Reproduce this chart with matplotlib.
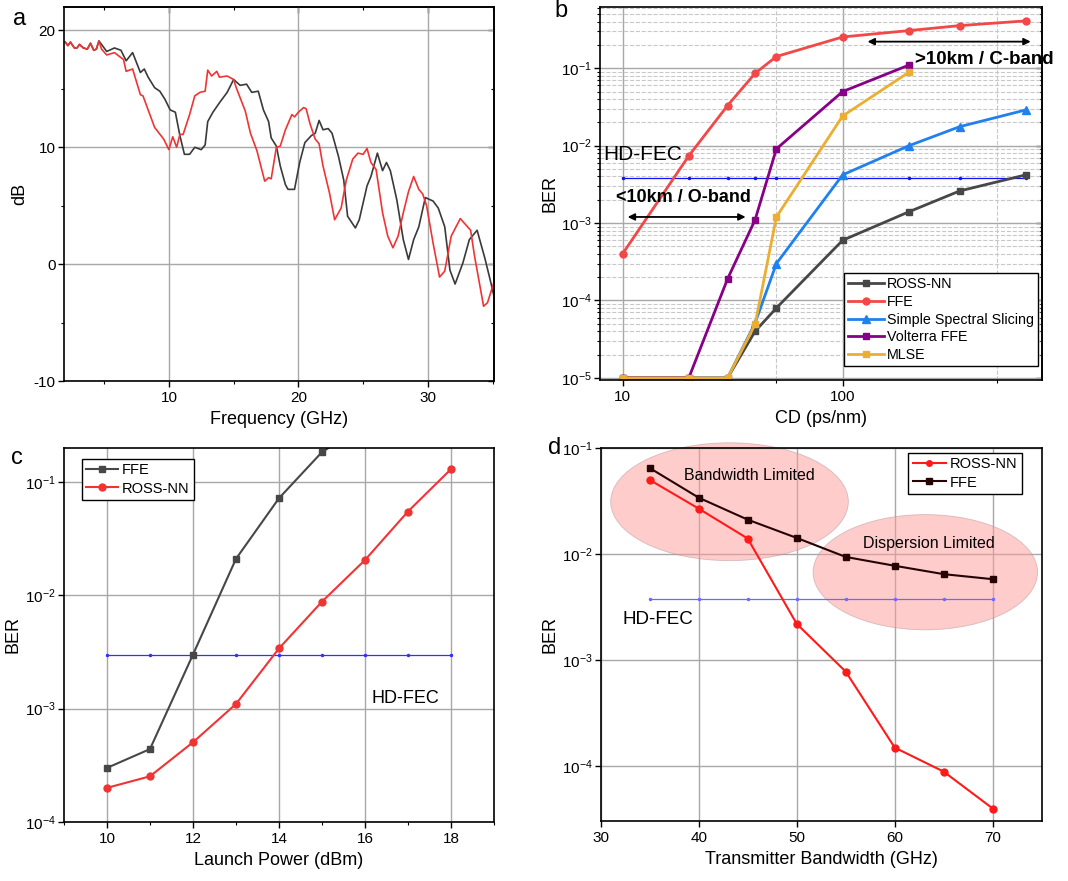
import numpy as np
import matplotlib
matplotlib.use("Agg")
from matplotlib import pyplot as plt
from matplotlib.patches import Ellipse
from matplotlib.ticker import LogLocator, NullFormatter, MultipleLocator

plt.rcParams['font.family'] = ['Liberation Sans', 'DejaVu Sans']
plt.rcParams['mathtext.fontset'] = 'custom'
plt.rcParams['mathtext.rm'] = 'Liberation Sans'
plt.rcParams['mathtext.it'] = 'Liberation Sans:italic'
plt.rcParams['mathtext.bf'] = 'Liberation Sans:bold'
plt.rcParams['axes.linewidth'] = 1.2
plt.rcParams['axes.unicode_minus'] = False

# ---- panel a: frequency response ----
f_red = [2.0, 2.2, 2.4, 2.7, 2.9, 3.1, 3.4, 3.7, 3.95, 4.2, 4.4, 4.6, 4.8, 5.2, 5.8, 6.5, 6.7, 7.2,
         7.8, 8.0, 8.3, 8.9, 9.6, 10.0, 10.3, 10.6, 10.85, 11.1, 11.6, 12.0, 12.4, 12.8, 13.0, 13.3,
         13.7, 13.9, 14.5, 15.0, 15.2, 15.9, 16.3, 16.8, 17.4, 17.7, 17.9, 18.3, 18.6, 19.0, 19.5,
         19.7, 20.0, 20.4, 20.6, 20.9, 21.3, 21.6, 21.9, 22.4, 22.8, 23.3, 23.7, 24.2, 24.6, 25.0,
         25.3, 25.6, 26.0, 26.5, 26.9, 27.3, 27.7, 28.1, 28.5, 28.9, 29.3, 29.6, 29.9, 30.4, 30.9,
         31.3, 31.8, 32.5, 32.9, 33.3, 33.6, 34.3, 34.6, 35.2]
db_red = [19.0, 18.7, 19.0, 18.5, 18.5, 18.8, 18.5, 18.4, 18.9, 18.3, 18.4, 19.1, 18.4, 17.9, 18.1,
          17.5, 16.5, 16.7, 14.5, 14.4, 13.5, 11.7, 10.7, 9.8, 10.9, 10.0, 11.1, 11.1, 12.8, 14.4,
          14.7, 14.8, 16.6, 16.1, 16.5, 16.0, 16.1, 15.8, 15.1, 13.1, 11.2, 9.7, 7.1, 7.4, 7.3, 10.0,
          10.1, 11.5, 12.8, 12.6, 13.0, 13.4, 13.3, 12.0, 10.7, 10.3, 8.4, 6.1, 3.8, 4.8, 7.2, 9.0,
          9.5, 9.4, 9.9, 8.7, 8.1, 4.4, 2.4, 1.4, 2.4, 4.4, 6.2, 7.5, 6.4, 6.0, 5.0, 1.8, -1.1, -0.6,
          2.4, 3.9, 3.4, 2.9, 0.7, -3.6, -3.3, -1.2]
f_blk = [2.0, 2.2, 2.4, 2.7, 2.9, 3.1, 3.4, 3.7, 3.95, 4.2, 4.4, 4.6, 5.2, 5.8, 6.3, 6.7, 7.2, 7.8,
         8.1, 8.4, 8.9, 9.3, 9.7, 10.1, 10.5, 10.85, 11.2, 11.6, 12.0, 12.5, 12.8, 13.0, 13.4, 13.9,
         14.5, 15.0, 15.5, 16.0, 16.4, 16.9, 17.3, 17.7, 17.9, 18.3, 18.6, 19.0, 19.2, 19.7, 20.1,
         20.5, 21.0, 21.3, 21.6, 21.9, 22.3, 22.6, 23.1, 23.5, 23.8, 24.4, 24.7, 25.3, 25.6, 26.1,
         26.5, 26.8, 27.1, 27.6, 28.1, 28.5, 28.9, 29.3, 29.8, 30.4, 30.8, 31.3, 31.7, 32.1, 32.7,
         33.2, 33.8, 34.4, 34.8, 35.2]
db_blk = [19.0, 18.7, 19.0, 18.5, 18.5, 18.8, 18.5, 18.4, 18.9, 18.3, 18.4, 19.1, 18.2, 18.5, 18.3,
          17.4, 18.1, 16.4, 16.7, 16.0, 15.1, 14.8, 14.1, 13.2, 13.0, 11.0, 9.4, 9.4, 10.0, 9.8,
          10.2, 12.2, 13.0, 13.8, 14.7, 15.8, 15.3, 15.4, 14.7, 14.8, 13.2, 12.2, 10.8, 10.1, 8.4,
          6.8, 6.4, 6.4, 8.7, 10.4, 11.0, 11.2, 12.3, 11.5, 11.6, 11.2, 9.2, 7.2, 4.1, 3.1, 3.8, 6.7,
          7.5, 9.5, 8.0, 8.7, 8.0, 5.5, 2.1, 0.4, 2.1, 3.2, 5.7, 5.4, 4.8, 3.2, -0.5, -1.7, 0.1, 2.1,
          2.9, 0.5, -1.3, -3.2]

# ---- panel b: BER vs CD ----
cd = [10, 20, 30, 40, 50, 100, 200, 340, 680]
cd_short = [10, 20, 30, 40, 50, 100, 200]
ber_ross_b = [1e-5, 1e-5, 1e-5, 4.0e-5, 8.0e-5, 6.0e-4, 1.4e-3, 2.6e-3, 4.2e-3]
ber_ffe_b = [4.0e-4, 7.4e-3, 3.3e-2, 8.6e-2, 0.142, 0.254, 0.307, 0.356, 0.41]
ber_sss_b = [1e-5, 1e-5, 1e-5, 5.1e-5, 3.0e-4, 4.2e-3, 1.0e-2, 1.76e-2, 2.9e-2]
ber_volt_b = [1e-5, 1e-5, 1.9e-4, 1.1e-3, 9.1e-3, 5.0e-2, 0.11]
ber_mlse_b = [1e-5, 1e-5, 1e-5, 4.9e-5, 1.2e-3, 2.42e-2, 8.9e-2]
hdfec_b = 3.8e-3

# ---- panel c: BER vs launch power ----
power = [10, 11, 12, 13, 14, 15, 16, 17, 18]
power_ffe = [10, 11, 12, 13, 14, 15, 16]
ber_ffe_c = [3.0e-4, 4.4e-4, 3.0e-3, 2.1e-2, 7.2e-2, 0.184, 0.32]
ber_ross_c = [2.0e-4, 2.53e-4, 5.05e-4, 1.1e-3, 3.4e-3, 8.8e-3, 2.05e-2, 5.5e-2, 0.13]
hdfec_c = 3.0e-3

# ---- panel d: BER vs transmitter bandwidth ----
bw = [35, 40, 45, 50, 55, 60, 65, 70]
ber_ross_d = [5.0e-2, 2.68e-2, 1.4e-2, 2.2e-3, 7.8e-4, 1.5e-4, 8.9e-5, 4.0e-5]
ber_ffe_d = [6.47e-2, 3.4e-2, 2.11e-2, 1.42e-2, 9.4e-3, 7.76e-3, 6.47e-3, 5.8e-3]
hdfec_d = 3.8e-3

fig = plt.figure(figsize=(10.68, 8.81), dpi=100)

TICK = 11
LAB = 13
GRID = '#a8a8a8'

def style(ax):
    ax.tick_params(labelsize=TICK, direction='out', length=4, width=1)
    ax.tick_params(axis='y', pad=2)
    ax.tick_params(which='minor', length=2.5, width=0.8)
    ax.set_axisbelow(True)

# a
ax = fig.add_axes([0.0599, 0.5675, 0.4026, 0.4245])
ax.plot(f_blk, db_blk, color='#3a3a3a', lw=1.2)
ax.plot(f_red, db_red, color='#f03434', lw=1.2)
ax.set_xlim(1.9, 35.1)
ax.set_ylim(-10, 22)
ax.set_xticks([10, 20, 30])
ax.set_yticks([-10, 0, 10, 20])
ax.xaxis.set_minor_locator(MultipleLocator(5))
ax.yaxis.set_minor_locator(MultipleLocator(5))
ax.grid(True, which='major', color=GRID, lw=1)
ax.set_xlabel('Frequency (GHz)', fontsize=LAB)
ax.set_ylabel('dB', fontsize=LAB, labelpad=4)
style(ax)
sx = ax.secondary_xaxis('top')
sx.set_xticks([10, 20, 30])
sx.xaxis.set_minor_locator(MultipleLocator(5))
sx.tick_params(direction='in', labeltop=False, length=4, width=1)
sx.tick_params(which='minor', direction='in', length=2.5, width=0.8)
sy = ax.secondary_yaxis('right')
sy.set_yticks([-10, 0, 10, 20])
sy.yaxis.set_minor_locator(MultipleLocator(5))
sy.tick_params(direction='in', labelright=False, length=4, width=1)
sy.tick_params(which='minor', direction='in', length=2.5, width=0.8)

# b
ax = fig.add_axes([0.5618, 0.5687, 0.4139, 0.4234])
ax.set_xscale('log')
ax.set_yscale('log')
ax.plot(cd, [hdfec_b] * len(cd), color='#1010ff', lw=0.9, marker='.', ms=3)
ax.plot(cd, ber_ross_b, color='#474747', lw=2, marker='s', ms=5, label='ROSS-NN')
ax.plot(cd, ber_ffe_b, color='#f24848', lw=2, marker='o', ms=5, label='FFE')
ax.plot(cd, ber_sss_b, color='#2080f0', lw=2, marker='^', ms=5.5, label='Simple Spectral Slicing')
ax.plot(cd_short, ber_volt_b, color='#880088', lw=2, marker='s', ms=5, label='Volterra FFE')
ax.plot(cd_short, ber_mlse_b, color='#ecae30', lw=2, marker='s', ms=5, label='MLSE')
ax.set_xlim(7.9, 805)
ax.set_ylim(9.4e-6, 0.62)
ax.set_xticks([10, 100])
ax.set_xticklabels(['10', '100'])
ax.xaxis.set_minor_locator(LogLocator(base=10, subs=[5]))
ax.xaxis.set_minor_formatter(NullFormatter())
ax.yaxis.set_major_locator(LogLocator(base=10, numticks=10))
ax.yaxis.set_minor_locator(LogLocator(base=10, subs=np.arange(2, 10), numticks=20))
ax.yaxis.set_minor_formatter(NullFormatter())
ax.grid(True, which='major', color=GRID, lw=1)
ax.grid(True, which='minor', color='#c8c8c8', lw=0.8, ls='--')
ax.set_xlabel('CD (ps/nm)', fontsize=LAB)
ax.set_ylabel('BER', fontsize=LAB, labelpad=2)
style(ax)
sy = ax.secondary_yaxis('right')
sy.yaxis.set_major_locator(LogLocator(base=10, numticks=10))
sy.yaxis.set_minor_locator(LogLocator(base=10, subs=np.arange(2, 10), numticks=20))
sy.yaxis.set_minor_formatter(NullFormatter())
sy.tick_params(direction='in', labelright=False, length=4, width=1)
sy.tick_params(which='minor', direction='in', length=2.5, width=0.8)
ax.text(8.2, 7.6e-3, 'HD-FEC', fontsize=15, va='center', ha='left')
ax.text(9.3, 2.15e-3, '<10km / O-band', fontsize=13, fontweight='bold', va='center', ha='left')
ax.text(213, 0.128, '>10km / C-band', fontsize=13.5, fontweight='bold', va='center', ha='left',
        clip_on=False)
ax.annotate('', xy=(10.25, 1.2e-3), xytext=(37.3, 1.2e-3),
            arrowprops=dict(arrowstyle='<|-|>', color='k', lw=1.3, mutation_scale=10))
ax.annotate('', xy=(126, 0.221), xytext=(736, 0.221),
            arrowprops=dict(arrowstyle='<|-|>', color='k', lw=1.3, mutation_scale=10))
leg = ax.legend(loc='lower right', fontsize=10.3, fancybox=False, edgecolor='k', framealpha=1,
                handlelength=2.5, borderpad=0.3, labelspacing=0.25, handletextpad=0.2,
                borderaxespad=0, bbox_to_anchor=(0.991, 0.0375))
leg.get_frame().set_linewidth(1)

# c
ax = fig.add_axes([0.0599, 0.067, 0.4026, 0.4245])
ax.set_yscale('log')
ax.plot(power, [hdfec_c] * len(power), color='#3030ff', lw=0.9, marker='.', ms=3)
ax.plot(power_ffe, ber_ffe_c, color='#474747', lw=1.5, marker='s', ms=5, label='FFE')
ax.plot(power, ber_ross_c, color='#f03434', lw=1.5, marker='o', ms=5, label='ROSS-NN')
ax.set_xlim(9, 19)
ax.set_ylim(1e-4, 0.2)
ax.set_xticks([10, 12, 14, 16, 18])
ax.xaxis.set_minor_locator(MultipleLocator(1))
ax.yaxis.set_minor_locator(LogLocator(base=10, subs=np.arange(2, 10), numticks=20))
ax.yaxis.set_minor_formatter(NullFormatter())
ax.grid(True, which='major', color=GRID, lw=1)
ax.set_xlabel('Launch Power (dBm)', fontsize=LAB)
ax.set_ylabel('BER', fontsize=LAB, labelpad=2)
style(ax)
ax.tick_params(axis='y', which='minor', length=0)
ax.text(16.15, 1.24e-3, 'HD-FEC', fontsize=13, va='center', ha='left')
leg = ax.legend(loc='upper left', fontsize=10.5, fancybox=False, edgecolor='k', framealpha=1,
                handlelength=2.2, borderpad=0.3, labelspacing=0.3, handletextpad=0.25,
                borderaxespad=0, bbox_to_anchor=(0.042, 0.971))
leg.get_frame().set_linewidth(1)

# d
ax = fig.add_axes([0.5625, 0.0681, 0.4129, 0.4234])
ax.set_yscale('log')
ax.add_patch(Ellipse((0.292, 0.856), 0.539, 0.316, transform=ax.transAxes, facecolor='#ff9b9b',
                     edgecolor='#b09090', lw=0.6, alpha=0.5, clip_on=False, zorder=1))
ax.add_patch(Ellipse((0.736, 0.667), 0.509, 0.309, transform=ax.transAxes, facecolor='#ff9b9b',
                     edgecolor='#b09090', lw=0.6, alpha=0.5, clip_on=False, zorder=1))
ax.plot(bw, [hdfec_d] * len(bw), color='#6a6aff', lw=0.9, marker='.', ms=3, zorder=2)
ax.plot(bw, ber_ross_d, color='#ff1a1a', lw=1.5, marker='o', ms=5, label='ROSS-NN', zorder=3)
ax.plot(bw, ber_ffe_d, color='#260404', lw=1.5, marker='s', ms=5, label='FFE', zorder=3)
ax.set_xlim(30, 75)
ax.set_ylim(3.05e-5, 0.1)
ax.set_xticks([30, 40, 50, 60, 70])
ax.yaxis.set_minor_locator(LogLocator(base=10, subs=np.arange(2, 10), numticks=20))
ax.yaxis.set_minor_formatter(NullFormatter())
ax.grid(True, which='major', color=GRID, lw=1)
ax.set_xlabel('Transmitter Bandwidth (GHz)', fontsize=LAB)
ax.set_ylabel('BER', fontsize=LAB, labelpad=2)
style(ax)
ax.tick_params(axis='y', which='minor', length=0)
ax.text(32.25, 2.44e-3, 'HD-FEC', fontsize=13.5, va='center', ha='left')
ax.text(0.336, 0.927, 'Bandwidth Limited', transform=ax.transAxes, fontsize=11.5,
        ha='center', va='center', zorder=4)
ax.text(0.745, 0.743, 'Dispersion Limited', transform=ax.transAxes, fontsize=11.5,
        ha='center', va='center', zorder=4)
leg = ax.legend(loc='upper right', fontsize=10.5, fancybox=False, edgecolor='k', framealpha=1,
                handlelength=2.3, borderpad=0.3, labelspacing=0.3, handletextpad=0.25,
                borderaxespad=0, markerscale=0.8, bbox_to_anchor=(0.955, 0.987))
leg.get_frame().set_linewidth(1)

fig.text(0.018, 0.979, 'a', fontsize=17, ha='center', va='center')
fig.text(0.525, 0.988, 'b', fontsize=17, ha='center', va='center')
fig.text(0.016, 0.48, 'c', fontsize=17, ha='center', va='center')
fig.text(0.519, 0.492, 'd', fontsize=17, ha='center', va='center')

fig.savefig('out.png', dpi=100)
